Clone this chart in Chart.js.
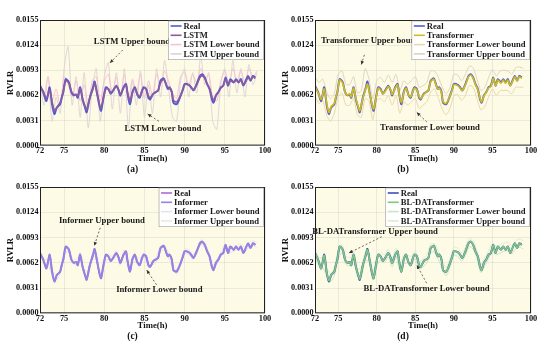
<!DOCTYPE html>
<html>
<head>
<meta charset="utf-8">
<script src="https://cdn.jsdelivr.net/npm/chart.js@4.4.1/dist/chart.umd.min.js"></script>
<style>
  body { margin: 0; background: #fff; width: 550px; height: 350px; overflow: hidden; position: relative; }
  canvas { position: absolute; }
</style>
</head>
<body>
<canvas id="chart-a" width="275" height="175" style="left:0;top:0"></canvas>
<canvas id="chart-b" width="275" height="175" style="left:275px;top:0"></canvas>
<canvas id="chart-c" width="275" height="175" style="left:0;top:175px"></canvas>
<canvas id="chart-d" width="275" height="175" style="left:275px;top:175px"></canvas>
<script>
// time (h) of the real / predicted series
const times = [72.0,72.4,72.8,73.2,73.5,73.8,74.1,74.5,74.7,74.9,
  75.2,75.6,75.9,76.2,76.5,76.7,77.0,77.3,77.6,77.8,
  78.2,78.6,78.8,79.1,79.4,79.6,79.9,80.2,80.5,80.8,
  81.1,81.5,81.8,82.0,82.4,82.7,82.9,83.2,83.5,83.8,
  84.1,84.4,84.7,84.9,85.2,85.5,85.7,86.1,86.4,86.7,
  87.0,87.4,87.6,87.9,88.1,88.4,88.6,89.0,89.4,89.8,
  90.0,90.5,90.8,91.1,91.5,91.9,92.2,92.5,92.8,93.1,
  93.4,93.6,93.9,94.2,94.5,94.8,95.1,95.4,95.7,96.1,
  96.4,96.7,97.0,97.3,97.6,97.9,98.2,98.5,98.8];

const real = [0.0074,0.0066,0.0055,0.0072,0.0051,0.0039,0.0047,0.0051,0.0059,0.0066,
  0.0082,0.0078,0.0066,0.0062,0.0063,0.0059,0.0072,0.0057,0.0047,0.0041,
  0.0059,0.0072,0.0079,0.0064,0.0049,0.0043,0.0059,0.0072,0.0070,0.0064,
  0.0068,0.0074,0.0068,0.0062,0.0072,0.0076,0.0064,0.0051,0.0066,0.0072,
  0.0063,0.0059,0.0068,0.0072,0.0070,0.0059,0.0057,0.0064,0.0066,0.0068,
  0.0080,0.0083,0.0078,0.0070,0.0072,0.0066,0.0053,0.0051,0.0059,0.0070,
  0.0076,0.0075,0.0072,0.0068,0.0076,0.0086,0.0088,0.0084,0.0076,0.0070,
  0.0057,0.0053,0.0062,0.0066,0.0072,0.0074,0.0084,0.0074,0.0082,0.0078,
  0.0082,0.0078,0.0082,0.0074,0.0080,0.0086,0.0080,0.0086,0.0084];

const lstm = [0.0072,0.0067,0.0058,0.0069,0.0054,0.0043,0.0047,0.0053,0.0059,0.0067,
  0.0080,0.0077,0.0067,0.0063,0.0063,0.0061,0.0070,0.0058,0.0049,0.0044,
  0.0059,0.0070,0.0077,0.0065,0.0051,0.0046,0.0059,0.0070,0.0070,0.0065,
  0.0068,0.0073,0.0068,0.0063,0.0071,0.0075,0.0065,0.0055,0.0065,0.0071,
  0.0064,0.0060,0.0067,0.0071,0.0070,0.0061,0.0059,0.0064,0.0066,0.0068,
  0.0078,0.0082,0.0078,0.0071,0.0071,0.0066,0.0056,0.0054,0.0060,0.0069,
  0.0075,0.0075,0.0072,0.0069,0.0075,0.0084,0.0086,0.0083,0.0076,0.0070,
  0.0060,0.0056,0.0062,0.0066,0.0071,0.0074,0.0082,0.0075,0.0080,0.0078,
  0.0081,0.0078,0.0081,0.0075,0.0079,0.0084,0.0081,0.0085,0.0083];

const transformer = [0.0073,0.0065,0.0057,0.0070,0.0053,0.0041,0.0048,0.0052,0.0060,0.0066,
  0.0081,0.0077,0.0066,0.0062,0.0064,0.0060,0.0071,0.0058,0.0048,0.0043,
  0.0058,0.0071,0.0076,0.0064,0.0050,0.0045,0.0058,0.0071,0.0069,0.0064,
  0.0067,0.0073,0.0069,0.0063,0.0071,0.0075,0.0064,0.0053,0.0065,0.0071,
  0.0063,0.0060,0.0067,0.0071,0.0069,0.0060,0.0058,0.0063,0.0066,0.0068,
  0.0079,0.0082,0.0077,0.0070,0.0071,0.0065,0.0054,0.0052,0.0059,0.0069,
  0.0075,0.0074,0.0071,0.0068,0.0075,0.0085,0.0087,0.0083,0.0075,0.0069,
  0.0058,0.0054,0.0061,0.0066,0.0071,0.0073,0.0083,0.0074,0.0081,0.0077,
  0.0081,0.0077,0.0081,0.0074,0.0079,0.0085,0.0080,0.0085,0.0083];

const informer = [0.0074,0.0066,0.0056,0.0071,0.0052,0.0040,0.0047,0.0051,0.0059,0.0066,
  0.0081,0.0078,0.0066,0.0062,0.0063,0.0060,0.0071,0.0057,0.0047,0.0042,
  0.0059,0.0071,0.0078,0.0064,0.0049,0.0044,0.0059,0.0071,0.0070,0.0064,
  0.0068,0.0073,0.0068,0.0062,0.0072,0.0075,0.0064,0.0052,0.0066,0.0071,
  0.0063,0.0059,0.0068,0.0071,0.0070,0.0059,0.0057,0.0064,0.0066,0.0068,
  0.0080,0.0082,0.0078,0.0070,0.0072,0.0066,0.0053,0.0052,0.0059,0.0070,
  0.0076,0.0075,0.0072,0.0068,0.0076,0.0085,0.0087,0.0084,0.0076,0.0070,
  0.0057,0.0054,0.0062,0.0066,0.0072,0.0074,0.0083,0.0074,0.0082,0.0078,
  0.0082,0.0078,0.0082,0.0074,0.0080,0.0085,0.0080,0.0086,0.0084];

const bldat = [0.0074,0.0066,0.0055,0.0071,0.0051,0.0040,0.0047,0.0051,0.0059,0.0066,
  0.0082,0.0078,0.0066,0.0062,0.0063,0.0059,0.0072,0.0057,0.0047,0.0042,
  0.0059,0.0072,0.0078,0.0064,0.0049,0.0043,0.0059,0.0072,0.0070,0.0064,
  0.0068,0.0074,0.0068,0.0062,0.0072,0.0076,0.0064,0.0051,0.0066,0.0072,
  0.0063,0.0059,0.0068,0.0072,0.0070,0.0059,0.0057,0.0064,0.0066,0.0068,
  0.0080,0.0083,0.0078,0.0070,0.0072,0.0066,0.0053,0.0051,0.0059,0.0070,
  0.0076,0.0075,0.0072,0.0068,0.0076,0.0086,0.0088,0.0084,0.0076,0.0070,
  0.0057,0.0053,0.0062,0.0066,0.0072,0.0074,0.0084,0.0074,0.0082,0.0078,
  0.0082,0.0078,0.0082,0.0074,0.0080,0.0086,0.0080,0.0086,0.0084];

// time (h) of the bound series
const boundTimes = [72,72.5,73,73.5,74,74.5,75,75.5,76,76.5,
  77,77.5,78,78.5,79,79.5,80,80.5,81,81.5,
  82,82.5,83,83.5,84,84.5,85,85.5,86,86.5,
  87,87.5,88,88.5,89,89.5,90,90.5,91,91.5,
  92,92.5,93,93.5,94,94.5,95,95.5,96,96.5,
  97,97.5,98,98.5,99];

const lstmLower = [0.0080,0.0060,0.0085,0.0055,0.0070,0.0050,0.0085,0.0075,0.0060,0.0080,
  0.0055,0.0075,0.0050,0.0080,0.0085,0.0055,0.0080,0.0088,0.0065,0.0085,
  0.0060,0.0088,0.0055,0.0082,0.0065,0.0088,0.0058,0.0080,0.0062,0.0088,
  0.0075,0.0092,0.0080,0.0065,0.0058,0.0085,0.0090,0.0075,0.0088,0.0078,
  0.0095,0.0082,0.0088,0.0060,0.0055,0.0080,0.0092,0.0078,0.0095,0.0080,
  0.0092,0.0078,0.0095,0.0085,0.0092];
const lstmUpper = [0.0078,0.0050,0.0085,0.0030,0.0060,0.0040,0.0095,0.0122,0.0050,0.0085,
  0.0035,0.0090,0.0022,0.0070,0.0095,0.0030,0.0085,0.0102,0.0045,0.0090,
  0.0040,0.0095,0.0022,0.0080,0.0050,0.0092,0.0035,0.0075,0.0040,0.0095,
  0.0060,0.0105,0.0070,0.0035,0.0030,0.0080,0.0095,0.0060,0.0090,0.0065,
  0.0110,0.0075,0.0090,0.0030,0.0020,0.0075,0.0095,0.0060,0.0105,0.0065,
  0.0095,0.0060,0.0100,0.0075,0.0090];

const transLower = [0.0062,0.0052,0.0055,0.0038,0.0030,0.0040,0.0060,0.0065,0.0050,0.0050,
  0.0058,0.0038,0.0035,0.0058,0.0055,0.0032,0.0056,0.0058,0.0054,0.0062,
  0.0050,0.0062,0.0040,0.0054,0.0050,0.0054,0.0058,0.0046,0.0050,0.0054,
  0.0066,0.0070,0.0058,0.0045,0.0038,0.0046,0.0062,0.0063,0.0056,0.0062,
  0.0074,0.0072,0.0058,0.0044,0.0048,0.0060,0.0070,0.0062,0.0068,0.0068,
  0.0068,0.0064,0.0072,0.0072,0.0072];
const transUpper = [0.0085,0.0078,0.0082,0.0066,0.0058,0.0064,0.0088,0.0092,0.0076,0.0075,
  0.0085,0.0065,0.0068,0.0095,0.0082,0.0058,0.0080,0.0084,0.0078,0.0087,
  0.0078,0.0088,0.0068,0.0080,0.0076,0.0080,0.0085,0.0072,0.0074,0.0078,
  0.0092,0.0092,0.0084,0.0072,0.0064,0.0072,0.0088,0.0087,0.0080,0.0088,
  0.0098,0.0096,0.0082,0.0068,0.0072,0.0084,0.0094,0.0086,0.0092,0.0093,
  0.0092,0.0088,0.0096,0.0097,0.0095];

const informerLower = [0.0071,0.0061,0.0059,0.0048,0.0041,0.0048,0.0069,0.0076,0.0062,0.0060,
  0.0069,0.0047,0.0047,0.0066,0.0066,0.0043,0.0060,0.0067,0.0064,0.0071,
  0.0059,0.0072,0.0055,0.0063,0.0063,0.0062,0.0069,0.0056,0.0059,0.0064,
  0.0077,0.0077,0.0068,0.0057,0.0048,0.0059,0.0073,0.0072,0.0066,0.0073,
  0.0084,0.0081,0.0069,0.0052,0.0060,0.0069,0.0078,0.0074,0.0076,0.0078,
  0.0079,0.0075,0.0081,0.0083,0.0081];
const informerUpper = [0.0077,0.0067,0.0065,0.0054,0.0047,0.0054,0.0075,0.0082,0.0068,0.0066,
  0.0075,0.0053,0.0053,0.0072,0.0072,0.0049,0.0066,0.0073,0.0070,0.0077,
  0.0065,0.0078,0.0061,0.0069,0.0069,0.0068,0.0075,0.0062,0.0065,0.0070,
  0.0083,0.0083,0.0074,0.0063,0.0054,0.0065,0.0079,0.0078,0.0072,0.0079,
  0.0090,0.0087,0.0075,0.0058,0.0066,0.0075,0.0084,0.0080,0.0082,0.0084,
  0.0085,0.0081,0.0087,0.0089,0.0087];

const bldatLower = [0.0069,0.0059,0.0057,0.0046,0.0039,0.0046,0.0067,0.0074,0.0060,0.0058,
  0.0067,0.0045,0.0045,0.0064,0.0064,0.0041,0.0058,0.0065,0.0062,0.0069,
  0.0057,0.0070,0.0053,0.0061,0.0061,0.0060,0.0067,0.0054,0.0057,0.0062,
  0.0075,0.0075,0.0066,0.0055,0.0046,0.0057,0.0071,0.0070,0.0064,0.0071,
  0.0082,0.0079,0.0067,0.0050,0.0058,0.0067,0.0076,0.0072,0.0074,0.0076,
  0.0077,0.0073,0.0079,0.0081,0.0079];
const bldatUpper = [0.0079,0.0069,0.0067,0.0056,0.0049,0.0056,0.0077,0.0084,0.0070,0.0068,
  0.0077,0.0055,0.0055,0.0074,0.0074,0.0051,0.0068,0.0075,0.0072,0.0079,
  0.0067,0.0080,0.0063,0.0071,0.0071,0.0070,0.0077,0.0064,0.0067,0.0072,
  0.0085,0.0085,0.0076,0.0065,0.0056,0.0067,0.0081,0.0080,0.0074,0.0081,
  0.0092,0.0089,0.0077,0.0060,0.0068,0.0077,0.0086,0.0082,0.0084,0.0086,
  0.0087,0.0083,0.0089,0.0091,0.0089];

const xTicks = [72, 75, 80, 85, 90, 95, 100];
const yTicks = [0, 0.0031, 0.0062, 0.0093, 0.0124, 0.0155];

const SERIF = '"Liberation Serif", "Times New Roman", serif';

function pts(xs, ys) {
  return xs.map((t, i) => ({ x: t, y: ys[i] }));
}

// cream plot background, black frame, boxed legend and the dashed arrow notes
const decor = {
  id: 'decor',
  beforeDraw(chart, args, o) {
    const { ctx, chartArea: a } = chart;
    ctx.save();
    ctx.fillStyle = '#fdfae6';
    ctx.fillRect(a.left, a.top, a.width, a.height);
    ctx.restore();
  },
  afterDraw(chart, args, o) {
    const { ctx, chartArea: a, scales: { x, y } } = chart;
    ctx.save();
    ctx.strokeStyle = '#222';
    ctx.lineWidth = 1;
    ctx.strokeRect(a.left + 0.5, a.top + 0.5, a.width - 1, a.height - 1);

    // notes
    ctx.font = 'bold 8.7px ' + SERIF;
    ctx.textAlign = 'center';
    ctx.textBaseline = 'middle';
    o.notes.forEach(n => {
      ctx.fillStyle = '#1a1a1a';
      ctx.fillText(n.text, x.getPixelForValue(n.at[0]), y.getPixelForValue(n.at[1]));
      const x1 = x.getPixelForValue(n.from[0]), y1 = y.getPixelForValue(n.from[1]);
      const x2 = x.getPixelForValue(n.to[0]), y2 = y.getPixelForValue(n.to[1]);
      ctx.strokeStyle = '#444';
      ctx.lineWidth = 0.8;
      ctx.setLineDash([2, 2]);
      ctx.beginPath();
      ctx.moveTo(x1, y1);
      ctx.lineTo(x2, y2);
      ctx.stroke();
      ctx.setLineDash([]);
      const ang = Math.atan2(y2 - y1, x2 - x1);
      ctx.fillStyle = '#333';
      ctx.beginPath();
      ctx.moveTo(x2, y2);
      ctx.lineTo(x2 - 4 * Math.cos(ang - 0.45), y2 - 4 * Math.sin(ang - 0.45));
      ctx.lineTo(x2 - 4 * Math.cos(ang + 0.45), y2 - 4 * Math.sin(ang + 0.45));
      ctx.closePath();
      ctx.fill();
    });

    // legend
    const items = chart.data.datasets;
    ctx.font = 'bold 8.6px ' + SERIF;
    let maxW = 0;
    items.forEach(d => { maxW = Math.max(maxW, ctx.measureText(d.label).width); });
    const rowH = 9.3;
    const w = 16 + maxW + 3;
    const h = rowH * items.length + 1.5;
    const lx = a.right - w - 1.5;
    const ly = a.top + 1;
    ctx.fillStyle = '#fff';
    ctx.fillRect(lx, ly, w, h);
    ctx.strokeStyle = '#999';
    ctx.lineWidth = 0.6;
    ctx.strokeRect(lx, ly, w, h);
    ctx.textAlign = 'left';
    items.forEach((d, i) => {
      const cy = ly + 5 + rowH * i;
      ctx.strokeStyle = d.borderColor;
      ctx.lineWidth = 1.6;
      ctx.beginPath();
      ctx.moveTo(lx + 2, cy);
      ctx.lineTo(lx + 13, cy);
      ctx.stroke();
      ctx.fillStyle = '#1a1a1a';
      ctx.fillText(d.label, lx + 15, cy + 0.5);
    });
    ctx.restore();
  }
};

function panel(id, p) {
  return new Chart(document.getElementById(id), {
    type: 'line',
    data: {
      datasets: [
        { label: 'Real', data: pts(times, real), borderColor: p.colors[0], borderWidth: 2, order: 1 },
        { label: p.name, data: pts(times, p.pred), borderColor: p.colors[1], borderWidth: 1.6, order: 0 },
        { label: p.name + ' Lower bound', data: pts(boundTimes, p.lower), borderColor: p.colors[2], borderWidth: 1, order: 2 },
        { label: p.name + ' Upper bound', data: pts(boundTimes, p.upper), borderColor: p.colors[3], borderWidth: 0.9, order: 3 }
      ]
    },
    options: {
      responsive: false,
      animation: false,
      elements: { point: { radius: 0 }, line: { tension: 0.25 } },
      layout: { padding: { left: 0, right: p.right, top: p.top, bottom: p.bottom } },
      plugins: {
        legend: { display: false },
        tooltip: { enabled: false },
        title: {
          display: true, text: p.tag, position: 'bottom', padding: 0, color: '#111',
          font: { family: SERIF, size: 9.5, weight: 'bold' }
        },
        decor: { notes: p.notes }
      },
      scales: {
        x: {
          type: 'linear', min: 72, max: 100,
          afterBuildTicks: s => { s.ticks = xTicks.map(v => ({ value: v })); },
          afterFit: s => { s.height = 18; },
          grid: { color: 'rgba(170,170,170,0.35)', lineWidth: 0.6, drawTicks: false },
          border: { display: false },
          ticks: { padding: 0, color: '#111', maxRotation: 0, font: { family: SERIF, size: 8.4, weight: 'bold' },
                   callback: v => String(v) },
          title: { display: true, text: 'Time(h)', color: '#111', padding: 0,
                   font: { family: SERIF, size: 8.7, weight: 'bold' } }
        },
        y: {
          min: 0, max: 0.0155,
          afterBuildTicks: s => { s.ticks = yTicks.map(v => ({ value: v })); },
          afterFit: s => { s.width = 40; },
          grid: { color: 'rgba(170,170,170,0.35)', lineWidth: 0.6, drawTicks: false },
          border: { display: false },
          ticks: { padding: 1.5, color: '#111', font: { family: SERIF, size: 8.2, weight: 'bold' },
                   callback: v => v.toFixed(4) },
          title: { display: true, text: 'RVLR', color: '#111', padding: { top: 6, bottom: 0 },
                   font: { family: SERIF, size: 8.7, weight: 'bold' } }
        }
      }
    },
    plugins: [decor]
  });
}

panel('chart-a', {
  name: 'LSTM', tag: '(a)', pred: lstm, lower: lstmLower, upper: lstmUpper,
  colors: ['#4f5bd5', '#8e5a9e', '#f6c3d2', '#ddd2d4'],
  right: 10, top: 20, bottom: 0,
  notes: [
    { text: 'LSTM Upper bound', at: [83.45, 0.0128], from: [82.3, 0.0118], to: [80.7, 0.0102] },
    { text: 'LSTM Lower bound', at: [87.3, 0.00214], from: [86.8, 0.0030], to: [85.4, 0.0039] }
  ]
});

panel('chart-b', {
  name: 'Transformer', tag: '(b)', pred: transformer, lower: transLower, upper: transUpper,
  colors: ['#4f5bd5', '#d0bd1c', '#e8d9aa', '#ddd3bc'],
  right: 19, top: 20, bottom: 0,
  notes: [
    { text: 'Transformer Upper bound', at: [79.2, 0.0129], from: [78.4, 0.0112], to: [78.0, 0.0100] },
    { text: 'Transformer Lower bound', at: [86.9, 0.00223], from: [86.5, 0.0029], to: [85.2, 0.0041] }
  ]
});

panel('chart-c', {
  name: 'Informer', tag: '(c)', pred: informer, lower: informerLower, upper: informerUpper,
  colors: ['#a86cd8', '#8f86e6', '#e6e2f2', '#ece8e0'],
  right: 10, top: 12, bottom: 7.3,
  notes: [
    { text: 'Informer Upper bound', at: [79.7, 0.0113], from: [79.5, 0.0105], to: [78.76, 0.0083] },
    { text: 'Informer Lower bound', at: [86.85, 0.00286], from: [86.5, 0.0035], to: [85.28, 0.0053] }
  ]
});

panel('chart-d', {
  name: 'BL-DATransformer', tag: '(d)', pred: bldat, lower: bldatLower, upper: bldatUpper,
  colors: ['#3b4cc0', '#7dc97d', '#c9e6c2', '#dcebd2'],
  right: 19, top: 12, bottom: 7.3,
  notes: [
    { text: 'BL-DATransformer Upper bound', at: [79.78, 0.0100], from: [80.65, 0.0094], to: [76.4, 0.0074] },
    { text: 'BL-DATransformer Lower bound', at: [86.47, 0.00298], from: [86.47, 0.0037], to: [85.2, 0.0059] }
  ]
});
</script>
</body>
</html>
